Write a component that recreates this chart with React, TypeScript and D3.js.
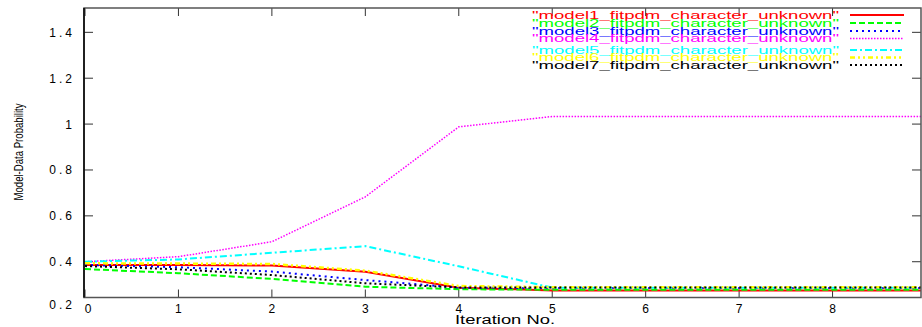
import React from 'react'
import * as d3 from 'd3'

// iteration numbers on the x axis
const iterations = [0, 1, 2, 3, 4, 5, 6, 7, 8, 9]

// model-data probability per iteration
const model1 = [0.386, 0.386, 0.383, 0.356, 0.287, 0.275, 0.275, 0.275, 0.275, 0.275]
const model2 = [0.368, 0.35, 0.325, 0.291, 0.28, 0.278, 0.278, 0.278, 0.278, 0.278]
const model3 = [0.386, 0.376, 0.357, 0.32, 0.287, 0.285, 0.285, 0.285, 0.285, 0.285]
const model4 = [0.4, 0.422, 0.487, 0.683, 0.988, 1.033, 1.033, 1.033, 1.033, 1.033]
const model5 = [0.4, 0.41, 0.439, 0.468, 0.38, 0.287, 0.287, 0.287, 0.287, 0.287]
const model6 = [0.393, 0.392, 0.39, 0.361, 0.294, 0.289, 0.289, 0.289, 0.289, 0.289]
const model7 = [0.381, 0.367, 0.342, 0.306, 0.288, 0.288, 0.288, 0.288, 0.288, 0.288]

const seriesNames = [
  'model1_fitpdm_character_unknown',
  'model2_fitpdm_character_unknown',
  'model3_fitpdm_character_unknown',
  'model4_fitpdm_character_unknown',
  'model5_fitpdm_character_unknown',
  'model6_fitpdm_character_unknown',
  'model7_fitpdm_character_unknown',
]
const seriesValues = [model1, model2, model3, model4, model5, model6, model7]

const yTicks = [0.2, 0.4, 0.6, 0.8, 1, 1.2, 1.4]
const xTicks = [0, 1, 2, 3, 4, 5, 6, 7, 8]

// gnuplot default line styles
const styles = [
  { color: '#ff0000', dash: '', width: 2 },
  { color: '#00ff00', dash: '6,3', width: 2 },
  { color: '#0000ff', dash: '2,4', width: 2 },
  { color: '#ff00ff', dash: '1.5,1.5', width: 1.5 },
  { color: '#00ffff', dash: '7,3,2,3', width: 2 },
  { color: '#ffff00', dash: '5,3,2,3,2,3', width: 2.5 },
  { color: '#000000', dash: '2,3', width: 2 },
]

const legendRows = [15, 23, 31, 38.5, 50, 57.5, 65]

export default function App() {
  const width = 922
  const height = 327
  const left = 84
  const top = 8
  const right = 921
  const bottom = 297.5

  const x = d3.scaleLinear().domain([0, 9]).range([85, 926])
  const y = d3.scaleLinear().domain([0.2, 1.5]).range([307.6, 9.4])

  const line = d3.line<number>()
    .x((d, i) => x(iterations[i]))
    .y(d => y(d))

  return (
    <svg width={width} height={height} style={{ position: 'absolute', left: 0, top: 0, background: '#fff' }}
      fontFamily="'Liberation Sans', Arial, sans-serif">
      <defs>
        <clipPath id="plot">
          <rect x={left} y={top} width={right - left} height={bottom - top} />
        </clipPath>
      </defs>

      {/* y ticks, left and right */}
      {yTicks.filter(t => y(t) < bottom).map(t => (
        <g key={'yt' + t}>
          <line x1={left} x2={left + 9} y1={y(t)} y2={y(t)} stroke="#333" strokeWidth={1} />
          <line x1={right} x2={right - 9} y1={y(t)} y2={y(t)} stroke="#333" strokeWidth={1} />
        </g>
      ))}
      {yTicks.map(t => (
        <text key={'yl' + t} x={75} y={Math.min(y(t), 304) + 4.5} textAnchor="end" fontSize={12}
          letterSpacing={3} fill="#000">{String(t)}</text>
      ))}

      {/* x ticks, bottom and top */}
      {xTicks.map(t => (
        <g key={'xt' + t}>
          <line x1={x(t)} x2={x(t)} y1={bottom} y2={bottom - 8} stroke="#333" strokeWidth={1} />
          <line x1={x(t)} x2={x(t)} y1={top} y2={top + 8} stroke="#333" strokeWidth={1} />
          <text x={x(t) + (t === 0 ? 3 : 0)} y={313} textAnchor="middle" fontSize={12} fill="#000">{t}</text>
        </g>
      ))}

      {/* series */}
      <g clipPath="url(#plot)">
        {seriesValues.map((vals, i) => (
          <path key={seriesNames[i]} d={line(vals) || ''} fill="none"
            stroke={styles[i].color} strokeWidth={styles[i].width}
            strokeDasharray={styles[i].dash || undefined} />
        ))}
      </g>

      {/* frame */}
      <rect x={left} y={top} width={right - left} height={bottom - top} fill="none" stroke="#555" strokeWidth={1.5} />
      <line x1={left} x2={left} y1={top} y2={bottom} stroke="#000" strokeWidth={1.5} />

      {/* legend */}
      {seriesNames.map((name, i) => (
        <g key={'lg' + name}>
          <text x={839} y={legendRows[i] + 3.5} textAnchor="end" fontSize={10} fill={styles[i].color}
            textLength={307} lengthAdjust="spacingAndGlyphs">{'"' + name + '"'}</text>
          <line x1={850} x2={904} y1={legendRows[i]} y2={legendRows[i]} stroke={styles[i].color}
            strokeWidth={styles[i].width} strokeDasharray={styles[i].dash || undefined} />
        </g>
      ))}

      {/* axis titles */}
      <text x={505} y={324} textAnchor="middle" fontSize={12} textLength={100}
        lengthAdjust="spacingAndGlyphs" fill="#000">Iteration No.</text>
      <text transform="translate(23,152) rotate(-90)" textAnchor="middle" fontSize={12}
        textLength={97} lengthAdjust="spacingAndGlyphs" fill="#000">Model-Data Probability</text>
    </svg>
  )
}
